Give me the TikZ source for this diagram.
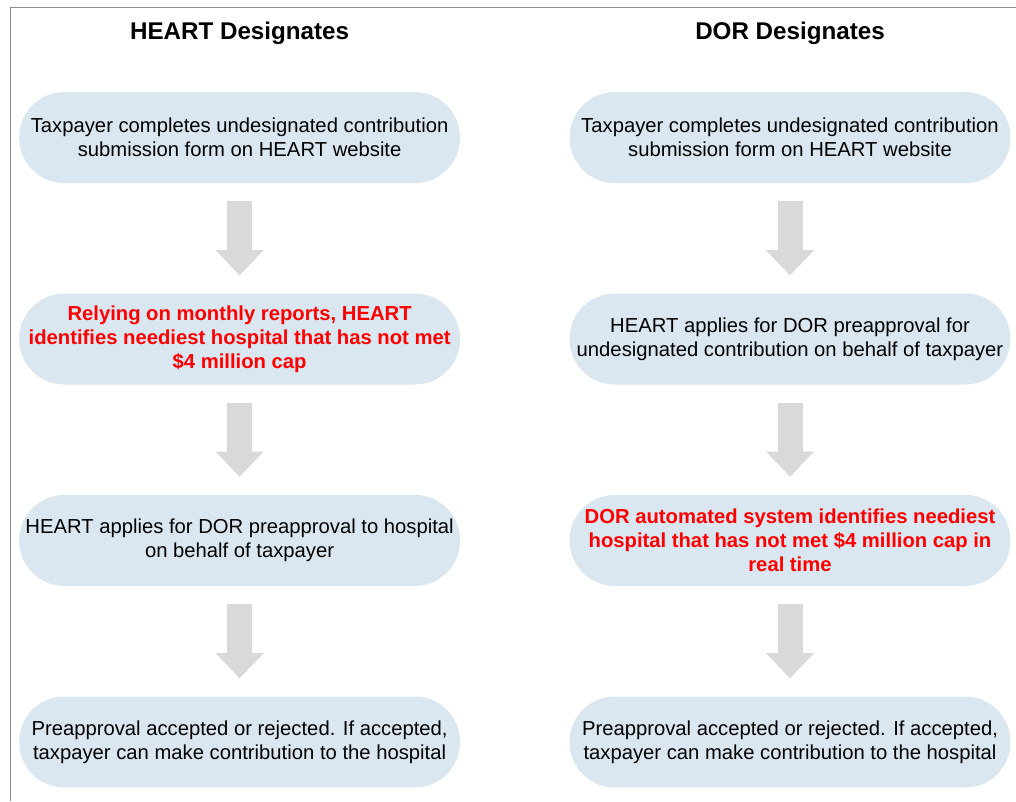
\documentclass[tikz,border=0pt]{standalone}
\usepackage{fontspec}
\setmainfont{Liberation Sans}
\usetikzlibrary{arrows.meta}

\definecolor{cajaazul}{RGB}{218,231,240}
\definecolor{flechagris}{RGB}{217,217,217}
\definecolor{marcogris}{RGB}{140,140,140}

\tikzset{
  paso/.style={fill=cajaazul, rounded corners=1.13cm, minimum width=11.02cm,
    minimum height=2.275cm, align=center, inner sep=0pt,
    font=\fontsize{14.4}{17.2}\selectfont},
  pasorojo/.style={paso, text=red, font=\fontsize{14.4}{17.2}\selectfont\bfseries},
  titulo/.style={anchor=base, font=\fontsize{17.2}{20}\selectfont\bfseries},
  flecha/.style={flechagris, line width=0.625cm, shorten <=0.45cm, shorten >=0.45cm,
    -{Triangle[width=1.2cm,length=0.625cm,line width=0pt]}}
}

\begin{document}
\begin{tikzpicture}

    \useasboundingbox (0,0) rectangle (25.4,-20.025);

    % marco
    \draw[marcogris, line width=0.7pt] (25.4,-0.175) -- (0.25,-0.175) -- (0.25,-20.025);

    % titulos
    \node[titulo] (tHeart) at (5.99,-0.975) {HEART Designates};
    \node[titulo] (tDor) at (19.75,-0.975) {DOR Designates};

    % columna izquierda
    \node[paso] (h1) at (5.99,-3.44) {Taxpayer completes undesignated contribution\\submission form on HEART website};
    \node[pasorojo] (h2) at (5.99,-8.475) {Relying on monthly reports, HEART\\identifies neediest hospital that has not met\\\$4 million cap};
    \node[paso] (h3) at (5.99,-13.51) {HEART applies for DOR preapproval to hospital\\on behalf of taxpayer};
    \node[paso] (h4) at (5.99,-18.55) {Preapproval accepted or rejected. If accepted,\\taxpayer can make contribution to the hospital};

    % columna derecha
    \node[paso] (d1) at (19.75,-3.44) {Taxpayer completes undesignated contribution\\submission form on HEART website};
    \node[paso] (d2) at (19.75,-8.475) {HEART applies for DOR preapproval for\\undesignated contribution on behalf of taxpayer};
    \node[pasorojo] (d3) at (19.75,-13.51) {DOR automated system identifies neediest\\hospital that has not met \$4 million cap in\\real time};
    \node[paso] (d4) at (19.75,-18.55) {Preapproval accepted or rejected. If accepted,\\taxpayer can make contribution to the hospital};

    % flechas
    \draw[flecha] (h1.south) -- (h2.north);
    \draw[flecha] (h2.south) -- (h3.north);
    \draw[flecha] (h3.south) -- (h4.north);
    \draw[flecha] (d1.south) -- (d2.north);
    \draw[flecha] (d2.south) -- (d3.north);
    \draw[flecha] (d3.south) -- (d4.north);

\end{tikzpicture}
\end{document}
